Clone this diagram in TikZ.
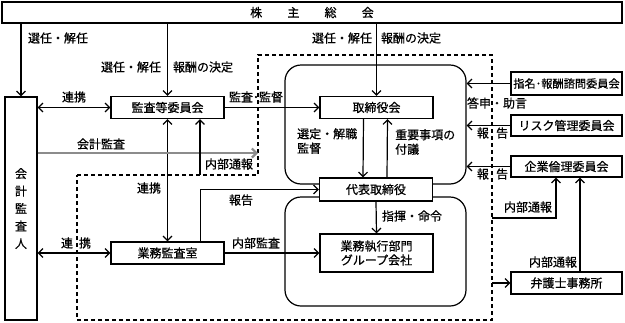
\documentclass[tikz,border=0pt]{standalone}
\usepackage{fontspec}
\setmainfont{Noto Sans CJK JP}[FakeBold=0.6]
\usetikzlibrary{arrows.meta,positioning,calc}
\tikzset{
    box/.style={
        draw,
        line width=1.2pt,
        fill=white,
        align=center,
        inner sep=0pt,
        minimum width=113pt,
        minimum height=22pt,
        font=\fontsize{12}{14}\selectfont
    },
    group/.style={
        draw,
        line width=1.2pt,
        rounded corners=16pt,
        inner sep=0pt
    },
    arrow/.style={
        -{Straight Barb[length=4.5pt,width=9pt]},
        line width=1.2pt
    },
    dblarrow/.style={
        {Straight Barb[length=4.5pt,width=9pt]}-{Straight Barb[length=4.5pt,width=9pt]},
        line width=1.2pt
    },
    auditarrow/.style={
        -{Straight Barb[length=4.5pt,width=9pt]},
        draw=black!45,
        line width=2.2pt
    },
    border/.style={
        line width=1.2pt,
        dash pattern=on 4pt off 3pt
    },
    lbl/.style={font=\fontsize{12}{14.5}\selectfont, inner sep=1pt}
}

\begin{document}
\begin{tikzpicture}[x=1pt, y=-1pt]
\useasboundingbox (0,0) rectangle (625,322);

% groups behind the boxes
\node[group, minimum width=181pt, minimum height=119pt] (upper) at (375.5,124.5) {};
\node[group, minimum width=181pt, minimum height=109pt] (lower) at (375.5,251.5) {};

% dashed border
\coordinate (d1) at (77,175);
\coordinate (d2) at (258,175);
\coordinate (d3) at (258,55);
\coordinate (d4) at (492,55);
\coordinate (d5) at (492,320);
\coordinate (d6) at (77,320);
\draw[border] (d1) -- (d2) -- (d3) -- (d4) -- (d5) -- (d6) -- cycle;

\node[box, minimum width=620pt, minimum height=21pt] (sh) at (312,12.5)
    {株\hspace{2.1em}主\hspace{2.1em}総\hspace{2.1em}会};
\node[box, minimum width=32pt, minimum height=223pt,
      font=\fontsize{12}{17.5}\selectfont] (auditor) at (21,208.5)
    {会\\計\\監\\査\\人};
\node[box] (ac) at (167.5,107.5) {監査等委員会};
\node[box] (iad) at (167.5,253) {業務監査室};
\node[box] (board) at (376.5,107.5) {取締役会};
\node[box, minimum height=23pt] (ceo) at (376,189.5) {代表取締役};
\node[box, minimum height=38pt] (exec) at (376.5,253) {業務執行部門\\グループ会社};
\node[box, minimum width=111pt, minimum height=23pt,
      font=\fontsize{11.2}{13}\selectfont] (nom) at (566.5,83.5) {指名･報酬諮問委員会};
\node[box, minimum width=111pt, minimum height=21pt] (risk) at (566.5,125.5) {リスク管理委員会};
\node[box, minimum width=111pt, minimum height=21pt] (ethics) at (566.5,166.5) {企業倫理委員会};
\node[box, minimum width=111pt] (law) at (566.5,283) {弁護士事務所};

% from the shareholders
\draw[arrow] (sh.south -| auditor.north) -- (auditor.north);
\draw[arrow] (sh.south -| ac.north) -- (ac.north);
\draw[arrow] (sh.south -| board.north) -- (board.north);

% audit side
\draw[dblarrow] (auditor.east |- ac.west) -- (ac.west);
\draw[dblarrow] (auditor.east |- iad.west) -- (iad.west);
\draw[dblarrow] (ac.south) -- (iad.north);
\draw[arrow] (ac.east) -- (board.west);
\coordinate (auditend) at (258,153);
\draw[auditarrow] (auditor.east |- auditend) -- (auditend);
\coordinate (nb) at (200,175);
\draw[arrow] (nb) -- (nb |- ac.south);
\draw[arrow] ([xshift=33pt]iad.north) |- (ceo.west);
\draw[arrow] (iad.east) -- (exec.west);

% board and execution
\draw[arrow] ([xshift=-13pt]board.south) -- ([xshift=-13pt]ceo.north);
\draw[arrow] ([xshift=11pt]ceo.north) -- ([xshift=11pt]board.south);
\draw[arrow] (ceo.south) -- (exec.north);

% committees
\draw[arrow] (nom.west) -- (nom.west -| upper.east);
\draw[arrow] (risk.west) -- (risk.west -| upper.east);
\draw[arrow] (ethics.west) -- (ethics.west -| upper.east);
\coordinate (wb) at (492,218);
\draw[arrow] (wb) -| ([xshift=-10.5pt]ethics.south);
\draw[arrow] ([xshift=13.5pt]law.north) -- ([xshift=13.5pt]ethics.south);
\draw[arrow] (law.west -| d5) -- (law.west);

% labels
\node[lbl] (l1) at (58,38) {選任・解任};
\node[lbl] (l2) at (131,67) {選任・解任};
\node[lbl] (l3) at (203,67) {報酬の決定};
\node[lbl] (l4) at (342,38) {選任・解任};
\node[lbl] (l5) at (411,38) {報酬の決定};
\node[lbl] (l6) at (74,97) {連携};
\node[lbl] (l7) at (256,97) {監査･監督};
\node[lbl] (l8) at (101,144) {会計監査};
\node[lbl] (l9) at (229,164) {内部通報};
\node[lbl] (l10) at (149,188) {連携};
\node[lbl] (l11) at (241,200) {報告};
\node[lbl] (l12) at (76,243) {連\hspace{0.5em}携};
\node[lbl] (l13) at (256,243) {内部監査};
\node[lbl, anchor=west, align=left] (l14) at (296,141) {選定・解職\\監督};
\node[lbl, anchor=west, align=left] (l15) at (394,142) {重要事項の\\付議};
\node[lbl] (l16) at (412,216) {指揮・命令};
\node[lbl] (l17) at (497,103) {答申・助言};
\node[lbl] (l18) at (492.5,133) {報\hspace{0.6em}告};
\node[lbl] (l19) at (492.5,174) {報\hspace{0.6em}告};
\node[lbl] (l20) at (528,207) {内部通報};
\node[lbl] (l21) at (553,262) {内部通報};

\end{tikzpicture}
\end{document}
